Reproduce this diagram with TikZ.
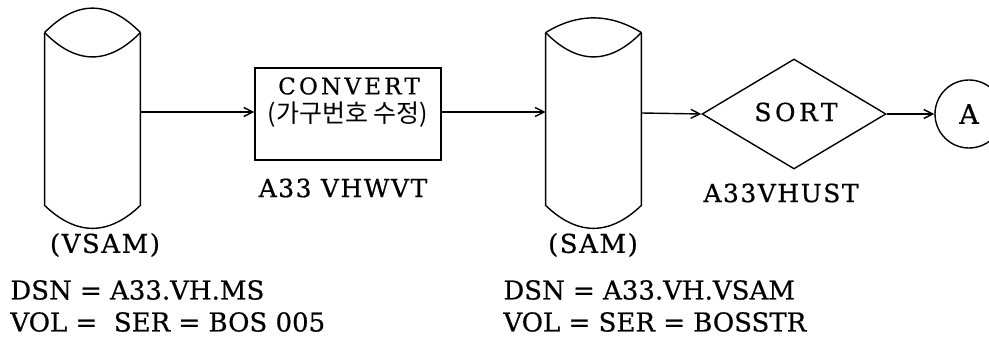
\documentclass[tikz,border=0pt]{standalone}
\usepackage{fontspec}
\setmainfont{DejaVu Serif}[FakeBold=0.6]
\newfontfamily\kr{Noto Sans CJK KR}
\newfontfamily\spA{DejaVu Serif}[LetterSpace=14,FakeBold=0.6]
\newfontfamily\spB{DejaVu Serif}[LetterSpace=6,FakeBold=0.6]
\usetikzlibrary{shapes.geometric,arrows.meta}
\tikzset{
  px/.style={x=0.5pt,y=-0.5pt},
  ln/.style={line width=0.7pt},
  arr/.style={ln,-{Straight Barb[length=4.5pt,width=4.5pt]}},
  cylbody/.style={inner sep=0pt,minimum width=47.5pt,minimum height=86pt},
  lbl/.style={font=\fontsize{13}{15}\selectfont,inner sep=0pt},
  procbox/.style={draw,ln,inner sep=0pt,minimum width=93pt,minimum height=46pt},
  decide/.style={draw,ln,diamond,inner sep=0pt,minimum width=92pt,minimum height=55pt},
  conn/.style={draw,ln,circle,inner sep=0pt,minimum size=34pt,font=\fontsize{13.5}{15}\selectfont}
}
\begin{document}
\begin{tikzpicture}[px]
\useasboundingbox (0,0) rectangle (989,341);
% cylinder 1
\node[cylbody] (c1) at (92.5,119) {};
\draw[ln] (c1.north west) .. controls (76.5,0) and (108.5,0) .. (c1.north east);
\draw[ln] (c1.north west) .. controls (76.5,65) and (108.5,65) .. (c1.north east);
\draw[ln] (c1.north west) -- (c1.south west) .. controls (76.5,236) and (108.5,236) .. (c1.south east) -- (c1.north east);
% box
\node[procbox] (conv) at (348,114) {};
\node[inner sep=0pt,font=\spA\fontsize{11.5}{13}\selectfont] (convt) at (349,86) {CONVERT};
\node[inner sep=0pt,font=\kr\fontsize{12.5}{14}\selectfont] (convk) at (348,115) {(가구번호 수정)};
\node[inner sep=0pt,font=\spB\fontsize{12.5}{14}\selectfont] (n1) at (343,188) {A33 VHWVT};
% cylinder 2
\node[cylbody] (c2) at (593.5,119) {};
\draw[ln] (c2.north west) .. controls (577.5,13) and (609.5,13) .. (c2.north east);
\draw[ln] (c2.north west) .. controls (577.5,65) and (609.5,65) .. (c2.north east);
\draw[ln] (c2.north west) -- (c2.south west) .. controls (577.5,236) and (609.5,236) .. (c2.south east) -- (c2.north east);
% diamond
\node[decide] (sort) at (794,114) {};
\node[inner sep=0pt,font=\spA\fontsize{12.5}{14}\selectfont] (sortt) at (796,112) {SORT};
\node[inner sep=0pt,font=\spB\fontsize{12.5}{14}\selectfont] (n2) at (781,193) {A33VHUST};
% connector
\node[conn] (A) at (969,114) {A};
% arrows
\draw[arr] (c1.east |- 0,112) -- (conv.west |- 0,112);
\draw[arr] (conv.east |- 0,112) -- (c2.west |- 0,112);
\draw[arr] (c2.east |- 0,113) -- (sort.west);
\draw[arr] (sort.east) -- (A.west);
% labels
\node[inner sep=0pt,font=\spB\fontsize{13}{15}\selectfont] (v1) at (105,245) {(VSAM)};
\node[lbl,anchor=west] (d1) at (10,290) {DSN = A33.VH.MS};
\node[lbl,anchor=west] (o1) at (10,322) {VOL = \ SER = BOS 005};
\node[inner sep=0pt,font=\spB\fontsize{13}{15}\selectfont] (v2) at (593,245) {(SAM)};
\node[lbl,anchor=west] (d2) at (503,290) {DSN = A33.VH.VSAM};
\node[lbl,anchor=west] (o2) at (503,322) {VOL = SER = BOSSTR};
\end{tikzpicture}
\end{document}
